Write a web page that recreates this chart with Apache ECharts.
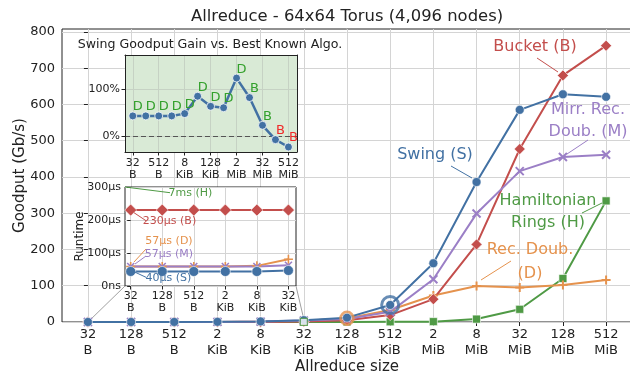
<!DOCTYPE html>
<html><head><meta charset="utf-8">
<script src="https://cdn.jsdelivr.net/npm/echarts@6/dist/echarts.min.js"></script>
<style>html,body{margin:0;padding:0;background:#fff}#c{width:630px;height:374px}</style>
</head><body><div id="c"></div>
<script>
// ---------- data ----------
const sizes = ['32\nB','128\nB','512\nB','2\nKiB','8\nKiB','32\nKiB','128\nKiB','512\nKiB','2\nMiB','8\nMiB','32\nMiB','128\nMiB','512\nMiB'];
const goodputSwing    = [0.01, 0.03, 0.1, 0.4, 1.6, 5, 12, 47, 162, 386, 585, 628, 621];
const goodputBucket   = [0, 0, 0, 0.1, 0.3, 1.1, 5, 19, 63, 214, 477, 680, 762];
const goodputMirr     = [0, 0, 0.1, 0.3, 1.1, 4, 8, 28, 118, 299, 416, 455, 461];
const goodputRecDoub  = [0, 0, 0.1, 0.3, 1.1, 3.4, 10, 33, 73, 99, 95, 102, 116];
const goodputHam      = [0, 0, 0, 0, 0, 0.1, 0.3, 0.6, 1, 8, 35, 120, 334];
const markHam = 5, markRecDoub = 6, markSwing = 7;
const goodputTicks = [0,100,200,300,400,500,600,700,800];

const gainPct  = [42.6, 42.6, 42.6, 42.6, 47.5, 84.4, 63, 60, 123, 81.6, 22.7, -7.8, -23.4];
const gainBest = ['D','D','D','D','D','D','D','D','D','B','B','B','B'];
const gainTicks = [0, 100];
const gainLabelIdx = [0,2,4,6,8,10,12];

const rtSizes   = ['32\nB','128\nB','512\nB','2\nKiB','8\nKiB','32\nKiB'];
const rtSwing   = [44, 44, 44, 44, 44, 47];
const rtMirr    = [59, 59, 59, 59, 59, 63];
const rtRecDoub = [59, 59, 59, 59, 61, 81];
const rtBucket  = [230, 230, 230, 230, 230, 230];
const rtHam     = [7000, 7000, 7000, 7000, 7000, 7000];
const rtTicks   = [0, 100, 200, 300];

// ---------- styles ----------
const F = 'DejaVu Sans';
const C = {blue:'#4271a3', red:'#c34e4c', purple:'#9b7fc6', orange:'#e5924d', green:'#4f9a45',
           lblGreen:'#33a02c', lblRed:'#f02a2a'};
const PLUS = 'path://M5,0L5,10M0,5L10,5';
const CROSS = 'path://M0,0L10,10M0,10L10,0';
const pts = a => a.map((v,i)=>[i,v]);
const idxs = a => a.map((_,i)=>i);
const grid0 = {show:true, lineStyle:{color:'#d4d4d4', width:1}};
const lineOnly = (g, pos, z) => ({gridIndex:g, type:'value', position:pos, z:z,
  axisLine:{show:true, onZero:false, lineStyle:{color:'#222', width:1}},
  axisTick:{show:false}, axisLabel:{show:false}, splitLine:{show:false}});

function mainSeries(name, data, color, symbol, size, isPath, z) {
  return {type:'line', name, xAxisIndex:0, yAxisIndex:0, data:pts(data), z:z,
    symbol, symbolSize:size, showSymbol:true,
    lineStyle:{color, width:2}, 
    itemStyle: isPath ? {color, borderColor:color, borderWidth:2} : {color, borderColor:'#fff', borderWidth:0.6},
    emphasis:{disabled:true}};
}
function rtSeries(name, data, color, symbol, size, isPath) {
  return {type:'line', name, xAxisIndex:1, yAxisIndex:1, data:pts(data), z:6,
    symbol, symbolSize:size, lineStyle:{color, width:2},
    itemStyle: isPath ? {color, borderColor:color, borderWidth:1.6} : {color, borderColor:'#fff', borderWidth:0.6},
    emphasis:{disabled:true}};
}

const option = {
  animation:false,
  grid:[
    {left:62, top:29, width:570, height:293, show:true, borderColor:'#222', borderWidth:1, backgroundColor:'rgba(0,0,0,0)', z:0, outerBoundsMode:'none', containLabel:false},
    {left:125, top:187, width:171, height:99, show:true, borderColor:'#222', borderWidth:1, backgroundColor:'#fff', z:3, outerBoundsMode:'none', containLabel:false},
    {left:125, top:55, width:172, height:97, show:true, borderWidth:0, backgroundColor:'#d9ead6', z:3, outerBoundsMode:'none', containLabel:false}
  ],
  xAxis:[
    {gridIndex:0, type:'value', min:-0.6, max:12.6, z:0,
     axisLine:{show:false},
     axisTick:{show:true, customValues:idxs(sizes), length:4, lineStyle:{color:'#222'}},
     axisLabel:{customValues:idxs(sizes), formatter:v=>sizes[Math.round(v)], fontFamily:F, fontSize:13, lineHeight:16, color:'#222', margin:5},
     splitLine:grid0, 
     name:'Allreduce size', nameLocation:'middle', nameGap:38, nameMoveOverlap:false, nameTextStyle:{fontFamily:F, fontSize:15, color:'#222'}},
    {gridIndex:1, type:'value', min:-0.18, max:5.24, z:5,
     axisLine:{show:false},
     axisTick:{show:true, customValues:idxs(rtSizes), length:3.5, lineStyle:{color:'#222'}},
     axisLabel:{customValues:idxs(rtSizes), formatter:v=>rtSizes[Math.round(v)], fontFamily:F, fontSize:11, lineHeight:12, color:'#222', margin:4},
     splitLine:grid0},
    {gridIndex:2, type:'value', min:-0.6, max:12.66, z:5,
     axisLine:{show:true, onZero:false, lineStyle:{color:'#222'}},
     axisTick:{show:true, customValues:gainLabelIdx, length:3.5, lineStyle:{color:'#222'}},
     axisLabel:{customValues:gainLabelIdx, formatter:v=>sizes[Math.round(v)], fontFamily:F, fontSize:11, lineHeight:12, color:'#222', margin:5},
     splitLine:{show:true, lineStyle:{color:'#c6d2c4', width:1}}},
    lineOnly(2, 'top', 5)
  ],
  yAxis:[
    {gridIndex:0, type:'value', min:0, max:808, z:0,
     axisLine:{show:false},
     axisTick:{show:true, customValues:goodputTicks, length:4, lineStyle:{color:'#222'}},
     axisLabel:{customValues:goodputTicks, formatter:v=>(v%100===0?String(v):''), fontFamily:F, fontSize:13, color:'#222', margin:7},
     splitLine:grid0,
     name:'Goodput (Gb/s)', nameLocation:'middle', nameGap:34, nameMoveOverlap:false, nameTextStyle:{fontFamily:F, fontSize:15, color:'#222'}},
    {gridIndex:1, type:'value', min:0, max:300, interval:100, z:5,
     axisLine:{show:false},
     axisTick:{show:true, length:3.5, lineStyle:{color:'#222'}},
     axisLabel:{formatter:v=>(v===0?'0ns':v+'µs'), fontFamily:F, fontSize:11, color:'#222', margin:4},
     splitLine:grid0,
     name:'Runtime', nameLocation:'middle', nameGap:39, nameMoveOverlap:false, nameTextStyle:{fontFamily:F, fontSize:12, color:'#222'}},
    {gridIndex:2, type:'value', min:-34, max:172, z:5,
     axisLine:{show:true, onZero:false, lineStyle:{color:'#222'}},
     axisTick:{show:true, customValues:gainTicks, length:3.5, lineStyle:{color:'#222'}},
     axisLabel:{customValues:gainTicks, formatter:v=>v+'%', fontFamily:F, fontSize:11, color:'#222', margin:5},
     splitLine:{show:true, lineStyle:{color:'#c6d2c4', width:1}}},
    lineOnly(2, 'right', 5)
  ],
  series:[
    mainSeries('Hamiltonian Rings (H)', goodputHam, C.green, 'rect', 8, false, 2),
    mainSeries('Rec. Doub. (D)', goodputRecDoub, C.orange, PLUS, 9, true, 2),
    mainSeries('Bucket (B)', goodputBucket, C.red, 'diamond', 11, false, 2),
    mainSeries('Mirr. Rec. Doub. (M)', goodputMirr, C.purple, CROSS, 8, true, 2),
    mainSeries('Swing (S)', goodputSwing, C.blue, 'circle', 9, false, 3),
    {type:'scatter', xAxisIndex:0, yAxisIndex:0, z:3, data:[[markRecDoub, goodputRecDoub[markRecDoub]]],
     symbol:'circle', symbolSize:13, itemStyle:{color:'rgba(255,255,255,0)', borderColor:C.orange, borderWidth:2.5}, emphasis:{disabled:true}},
    {type:'scatter', xAxisIndex:0, yAxisIndex:0, z:3, data:[[markSwing, goodputSwing[markSwing]]],
     symbol:'circle', symbolSize:17, itemStyle:{color:'rgba(255,255,255,0)', borderColor:C.blue, borderWidth:3}, emphasis:{disabled:true}},
    {type:'scatter', xAxisIndex:0, yAxisIndex:0, z:3, data:[[markHam, goodputHam[markHam]]],
     symbol:'rect', symbolSize:7, itemStyle:{color:'#fff', borderColor:C.green, borderWidth:1.2}, emphasis:{disabled:true}},

    // runtime inset
    rtSeries('Ham', rtHam, C.green, 'rect', 8, false),
    rtSeries('Bucket', rtBucket, C.red, 'diamond', 12, false),
    rtSeries('RecDoub', rtRecDoub, C.orange, PLUS, 9, true),
    rtSeries('Mirr', rtMirr, C.purple, CROSS, 7, true),
    rtSeries('Swing', rtSwing, C.blue, 'circle', 10, false),

    // gain inset background (negative region)
    {type:'line', xAxisIndex:2, yAxisIndex:2, data:[], z:4, silent:true,
     markArea:{silent:true, itemStyle:{color:'#fdd9d9'}, data:[[{yAxis:-34},{yAxis:0}]]}},
    {type:'line', name:'gain', xAxisIndex:2, yAxisIndex:2, z:6,
     data:gainPct.map((v,i)=>({value:[i,v], label:{color: v>=0?C.lblGreen:C.lblRed}})),
     symbol:'circle', symbolSize:8, lineStyle:{color:C.blue, width:2.5},
     itemStyle:{color:C.blue, borderColor:'#fff', borderWidth:0.8},
     label:{show:true, position:'top', distance:0, offset:[5,2], formatter:p=>gainBest[p.dataIndex], fontFamily:F, fontSize:13},
     markLine:{silent:true, symbol:'none', label:{show:false}, lineStyle:{color:'#555', type:[5,3], width:1.2}, data:[{yAxis:0}]},
     emphasis:{disabled:true}}
  ],
  graphic:{elements:[]}
};

const G = option.graphic.elements;
function txt(t, x, y, color, size, lh) {
  G.push({type:'text', x, y, z:10, silent:true, style:{text:t, fill:color, fontFamily:F, fontSize:size, lineHeight:lh||size*1.2, align:'center', verticalAlign:'middle'}});
}
function seg(x1,y1,x2,y2,color,w,z) {
  G.push({type:'line', z:z||10, silent:true, shape:{x1,y1,x2,y2}, style:{stroke:color, lineWidth:w||1}});
}
txt('Allreduce - 64x64 Torus (4,096 nodes)', 347, 17, '#222', 16.4);
txt('Swing Goodput Gain vs. Best Known Algo.', 210, 45, '#222', 12.6);
// main annotations
txt('Bucket (B)', 535, 47, C.red, 16); seg(537,58,558,72,C.red);
txt('Swing (S)', 435, 155, C.blue, 16); seg(451,166,472,178,C.blue);
txt('Mirr. Rec.\nDoub. (M)', 588, 121, C.purple, 16, 21.7); seg(588,140,567,154,C.purple);
txt('Hamiltonian\nRings (H)', 548, 212, C.green, 16, 22.3); seg(582,213,602,203,C.green);
txt('Rec. Doub.\n(D)', 530, 261.7, C.orange, 16, 23.3); seg(511,261,481,280,C.orange);
// runtime inset annotations
txt('7ms (H)', 190.5, 192.7, C.green, 11); seg(125,187,170,192.7,C.green);
txt('230µs (B)', 169.5, 220.7, C.red, 11); seg(134,212.7,146,220.7,C.red);
txt('57µs (D)', 169, 241, C.orange, 11); seg(134,262,146,249,C.orange);
txt('57µs (M)', 169, 254, C.purple, 11); seg(135,264,146,256,C.purple);
txt('40µs (S)', 168.5, 278.3, C.blue, 11); seg(134,271.7,146,277.3,C.blue);
// zoom connectors
seg(125,286,88,322,'#a0a0a0',1,1);
seg(296,286,304,320,'#a0a0a0',1,1);

const chart = echarts.init(document.getElementById('c'), null, {renderer:'canvas'});
chart.setOption(option);
</script></body></html>
